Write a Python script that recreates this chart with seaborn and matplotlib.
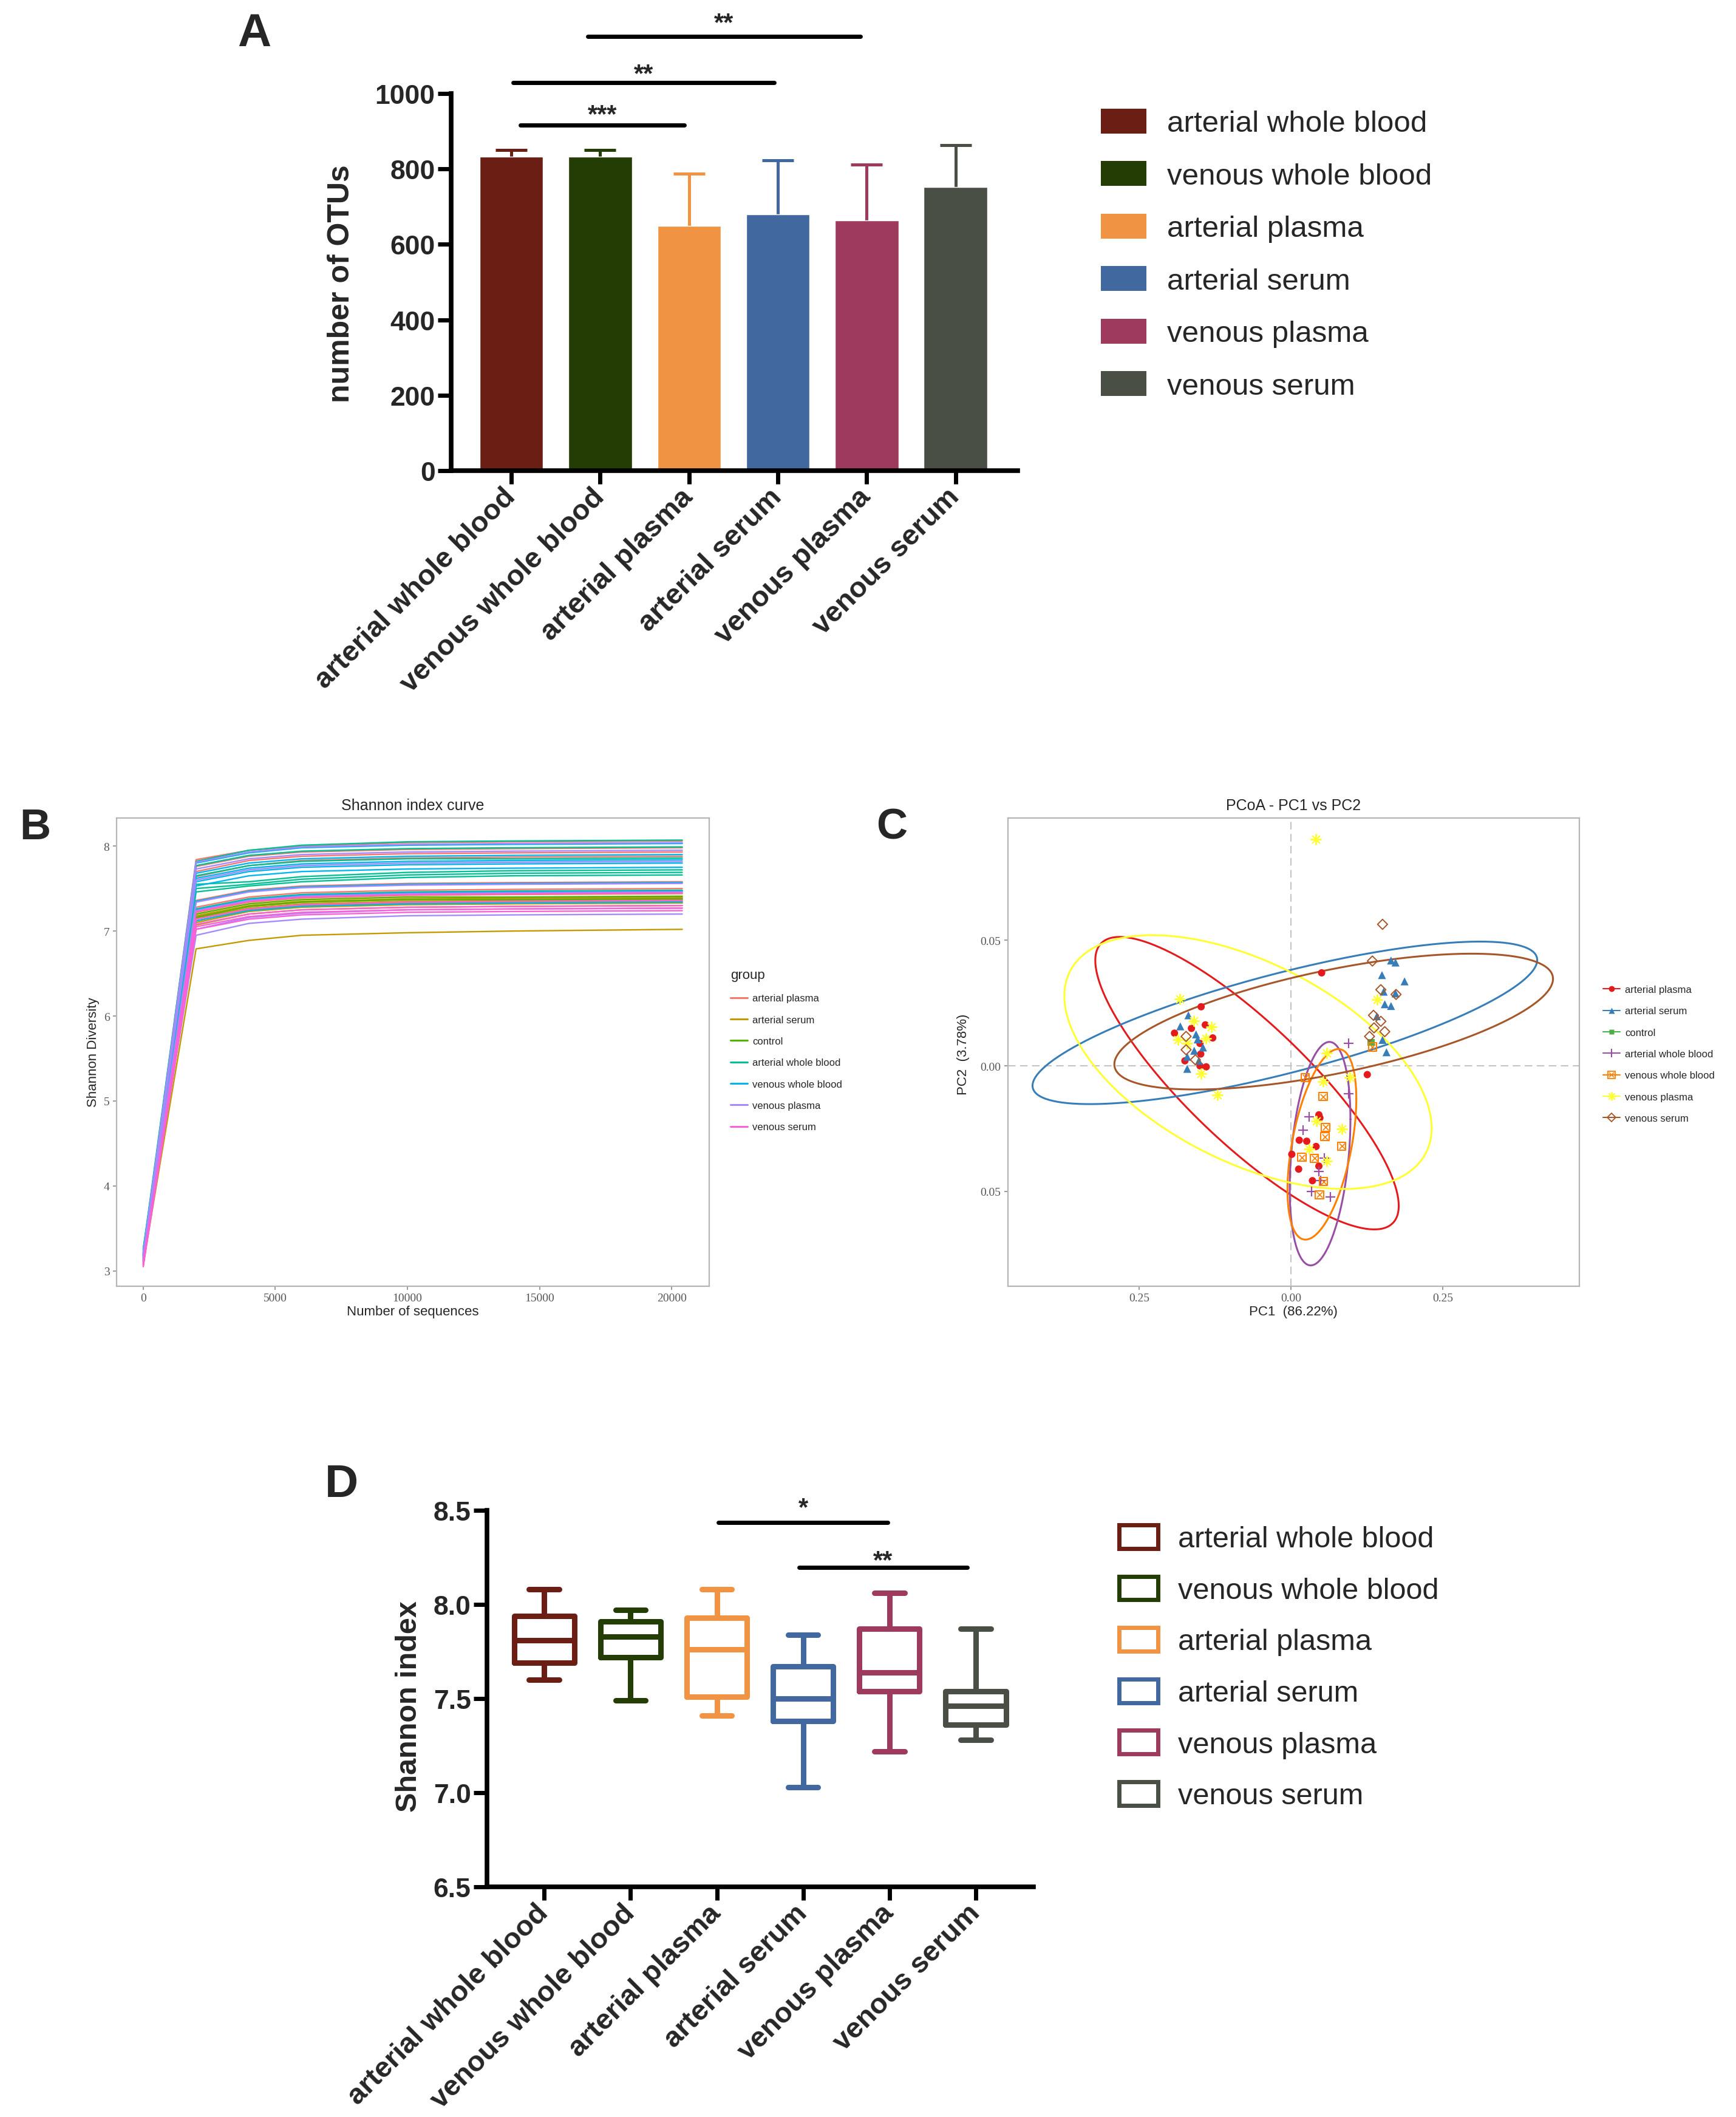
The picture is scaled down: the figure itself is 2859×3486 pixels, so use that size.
import numpy as np
import pandas as pd
import matplotlib
matplotlib.use("Agg")
import matplotlib.pyplot as plt
import seaborn as sns
from matplotlib.lines import Line2D
from matplotlib.patches import Patch

# ------------------------------------------------------------------ data
groups = ["arterial whole blood", "venous whole blood", "arterial plasma",
          "arterial serum", "venous plasma", "venous serum"]
prism_colors = ["#6B1E14", "#233D04", "#F09342", "#4268A0", "#9D3A5E", "#4A4F45"]

# Panel A: number of OTUs (mean, upper SD)
otu_mean = [833, 833, 649, 680, 663, 752]
otu_sd = [17, 17, 139, 143, 148, 111]
# significance brackets: (x start, x end, y, label)
sig_A = [(0.10, 1.95, 917, "***"), (0.02, 2.96, 1029, "**"), (0.86, 3.93, 1151, "**")]

# Panel D: Shannon index box stats  [min, q1, median, q3, max]
shannon_awb = [7.60, 7.69, 7.81, 7.94, 8.08]
shannon_vwb = [7.49, 7.72, 7.83, 7.91, 7.97]
shannon_ap = [7.41, 7.51, 7.76, 7.93, 8.08]
shannon_as = [7.03, 7.38, 7.50, 7.67, 7.84]
shannon_vp = [7.22, 7.54, 7.64, 7.87, 8.06]
shannon_vs = [7.28, 7.36, 7.46, 7.54, 7.87]
sig_D = [(2.02, 3.98, 8.437, "*"), (2.95, 4.90, 8.198, "**")]

# Panel B: Shannon rarefaction curves
gg_groups = ["arterial plasma", "arterial serum", "control", "arterial whole blood",
             "venous whole blood", "venous plasma", "venous serum"]
gg_colors = ["#F8766D", "#C49A00", "#53B400", "#00C094", "#00B6EB", "#A58AFF", "#FB61D7"]
seq_depth = [0, 2000, 4000, 6000, 10000, 14000, 20400]
curves_arterial_plasma = [
    [3.20, 7.84, 7.95, 8.00, 8.04, 8.05, 8.06],
    [3.15, 7.76, 7.88, 7.93, 7.96, 7.97, 7.98],
    [3.22, 7.70, 7.83, 7.88, 7.91, 7.92, 7.93],
    [3.18, 7.64, 7.77, 7.83, 7.86, 7.87, 7.88],
    [3.25, 7.36, 7.48, 7.53, 7.56, 7.57, 7.58],
    [3.12, 7.28, 7.40, 7.45, 7.48, 7.49, 7.50],
    [3.16, 7.22, 7.34, 7.39, 7.42, 7.43, 7.44],
    [3.10, 7.17, 7.29, 7.34, 7.37, 7.38, 7.39]]
curves_arterial_serum = [
    [3.14, 7.18, 7.30, 7.35, 7.38, 7.39, 7.40],
    [3.20, 7.15, 7.27, 7.32, 7.35, 7.36, 7.37],
    [3.12, 7.12, 7.25, 7.30, 7.33, 7.34, 7.35],
    [3.17, 7.10, 7.23, 7.28, 7.31, 7.32, 7.33],
    [3.22, 7.07, 7.20, 7.25, 7.28, 7.29, 7.30],
    [3.08, 6.79, 6.89, 6.95, 6.98, 7.00, 7.02]]
curves_control = [
    [3.18, 7.20, 7.32, 7.37, 7.40, 7.40, 7.41],
    [3.15, 7.16, 7.29, 7.34, 7.37, 7.37, 7.38]]
curves_arterial_whole_blood = [
    [3.24, 7.82, 7.95, 8.01, 8.05, 8.06, 8.07],
    [3.19, 7.77, 7.89, 7.94, 7.97, 7.98, 7.99],
    [3.21, 7.65, 7.77, 7.82, 7.85, 7.85, 7.86],
    [3.26, 7.55, 7.58, 7.64, 7.69, 7.71, 7.72],
    [3.13, 7.50, 7.55, 7.61, 7.66, 7.68, 7.69],
    [3.17, 7.46, 7.53, 7.58, 7.63, 7.65, 7.66],
    [3.11, 7.26, 7.38, 7.43, 7.46, 7.47, 7.48]]
curves_venous_whole_blood = [
    [3.20, 7.80, 7.92, 7.98, 8.01, 8.02, 8.03],
    [3.16, 7.68, 7.80, 7.85, 7.88, 7.89, 7.90],
    [3.23, 7.62, 7.74, 7.79, 7.82, 7.83, 7.84],
    [3.14, 7.58, 7.70, 7.75, 7.78, 7.79, 7.80],
    [3.19, 7.53, 7.65, 7.70, 7.73, 7.74, 7.75],
    [3.12, 7.35, 7.47, 7.52, 7.55, 7.56, 7.57],
    [3.18, 7.25, 7.37, 7.42, 7.45, 7.46, 7.47],
    [3.09, 7.12, 7.24, 7.29, 7.32, 7.33, 7.34]]
curves_venous_plasma = [
    [3.17, 7.81, 7.93, 7.99, 8.02, 8.03, 8.04],
    [3.21, 7.73, 7.85, 7.90, 7.93, 7.94, 7.95],
    [3.15, 7.60, 7.72, 7.77, 7.80, 7.81, 7.82],
    [3.10, 7.34, 7.46, 7.51, 7.54, 7.55, 7.56],
    [3.19, 7.24, 7.36, 7.41, 7.44, 7.45, 7.46],
    [3.08, 7.02, 7.16, 7.21, 7.25, 7.26, 7.27],
    [3.13, 6.95, 7.09, 7.14, 7.18, 7.19, 7.20]]
curves_venous_serum = [
    [3.06, 7.23, 7.35, 7.40, 7.43, 7.44, 7.45],
    [3.11, 7.14, 7.26, 7.31, 7.34, 7.35, 7.36],
    [3.07, 7.08, 7.20, 7.25, 7.28, 7.29, 7.30],
    [3.09, 7.05, 7.17, 7.22, 7.25, 7.26, 7.27],
    [3.05, 7.02, 7.14, 7.19, 7.22, 7.23, 7.24]]

# Panel C: PCoA coordinates
pcoa_colors = ["#E41A1C", "#377EB8", "#4DAF4A", "#984EA3", "#FF7F00", "#FFFF33", "#A65628"]
pc1_arterial_plasma = [-0.1482, -0.1413, -0.1642, -0.1921, -0.1291, -0.1501, -0.1489, -0.1749,
                       -0.1501, -0.1398, 0.0504, 0.1256, 0.0458, 0.0475, 0.0135, 0.0258,
                       0.0412, 0.0012, 0.0125, 0.0458, 0.0352]
pc2_arterial_plasma = [0.0235, 0.0163, 0.0149, 0.0130, 0.0111, 0.0089, 0.0047, 0.0020,
                       0.0000, -0.0004, 0.0370, -0.0035, -0.0195, -0.0207, -0.0296, -0.0300,
                       -0.0321, -0.0352, -0.0411, -0.0399, -0.0457]
pc1_arterial_serum = [-0.1692, -0.1825, -0.1566, -0.1539, -0.1451, -0.1596, -0.1711, -0.1520,
                      -0.1711, 0.1647, 0.1721, 0.1498, 0.1870, 0.1526, 0.1721, 0.1544,
                      0.1647, 0.1414, 0.1507, 0.1572]
pc2_arterial_serum = [0.0201, 0.0157, 0.0125, 0.0105, 0.0073, 0.0060, 0.0036, 0.0020,
                      -0.0012, 0.0419, 0.0411, 0.0361, 0.0336, 0.0295, 0.0288, 0.0245,
                      0.0238, 0.0197, 0.0103, 0.0054]
pc1_control = [0.1321]
pc2_control = [0.0093]
pc1_arterial_whole_blood = [0.0949, 0.0952, 0.0295, 0.0202, 0.0552, 0.0462, 0.0485, 0.0335, 0.0652]
pc2_arterial_whole_blood = [0.0090, -0.0110, -0.0203, -0.0255, -0.0368, -0.0420, -0.0457, -0.0501, -0.0521]
pc1_venous_whole_blood = [0.1340, 0.0235, 0.0528, 0.0568, 0.0558, 0.0835, 0.0178, 0.0385, 0.0535, 0.0468]
pc2_venous_whole_blood = [0.0075, -0.0046, -0.0122, -0.0245, -0.0282, -0.0320, -0.0364, -0.0368, -0.0461, -0.0513]
pc1_venous_plasma = [-0.1833, -0.1604, -0.1310, -0.1864, -0.1711, -0.1405, -0.1482, -0.1214,
                     0.1414, 0.0409, 0.0585, 0.0968, 0.0528, 0.0418, 0.0835, 0.0302, 0.0585]
pc2_venous_plasma = [0.0266, 0.0179, 0.0155, 0.0105, 0.0089, 0.0109, -0.0032, -0.0117,
                     0.0264, 0.0901, 0.0051, -0.0046, -0.0062, -0.0219, -0.0250, -0.0330, -0.0380]
pc1_venous_serum = [-0.1730, -0.1730, -0.1577, 0.1507, 0.1340, 0.1479, 0.1730, 0.1358,
                    0.1479, 0.1367, 0.1544, 0.1293]
pc2_venous_serum = [0.0117, 0.0064, 0.0024, 0.0563, 0.0417, 0.0303, 0.0284, 0.0201,
                    0.0177, 0.0151, 0.0136, 0.0117]
# confidence ellipses: centre (cx, cy), semi-diameter u (ux, uy), conjugate vertical semi-diameter h
ell_arterial_plasma = (-0.0726, -0.0069, 0.2500, -0.0488, 0.0317)
ell_arterial_serum = (-0.0102, 0.0171, 0.4158, 0.0250, 0.0205)
ell_arterial_whole_blood = (0.0478, -0.03495, 0.0500, 0.0137, 0.0423)
ell_venous_whole_blood = (0.0508, -0.03124, 0.0567, 0.01812, 0.0333)
ell_venous_plasma = (-0.0710, 0.0015, 0.3026, -0.0263, 0.0431)
ell_venous_serum = (0.0702, 0.0176, 0.3614, 0.0170, 0.0210)

# ------------------------------------------------------------------ figure
W, H = 2859, 3487
sns.set_theme(style="ticks")
plt.rcParams["font.family"] = ["Liberation Sans", "DejaVu Sans"]
plt.rcParams["axes.unicode_minus"] = False

fig = plt.figure(figsize=(W / 100, H / 100), dpi=100)
fig.patch.set_facecolor("white")


def rect(l, t, r, b):
    return [l / W, 1 - b / H, (r - l) / W, (b - t) / H]


def prism_axes(ax):
    for s in ["top", "right"]:
        ax.spines[s].set_visible(False)
    for s in ["left", "bottom"]:
        ax.spines[s].set_linewidth(5.5)
        ax.spines[s].set_color("black")
    ax.tick_params(axis="both", which="major", direction="out", length=16, width=5,
                   color="black", bottom=True, left=True, pad=3)
    ax.set_facecolor("white")


# ---------------- Panel A
axA = fig.add_axes(rect(743, 155, 1676, 776))
dfA = pd.DataFrame({"group": groups, "otus": otu_mean})
sns.barplot(data=dfA, x="group", y="otus", hue="group", palette=prism_colors,
            saturation=1, width=0.714, errorbar=None, legend=False, ax=axA, zorder=2)
for i, (m, e) in enumerate(zip(otu_mean, otu_sd)):
    eb = axA.errorbar(i, m, yerr=[[0], [e]], fmt="none", ecolor=prism_colors[i],
                      elinewidth=3.6, capsize=19, capthick=3.6, zorder=1)
    for cl in eb[1]:
        if np.allclose(cl.get_ydata(), m):
            cl.set_visible(False)
axA.set_ylim(0, 1000)
axA.set_xlim(-0.678, 5.70)
prism_axes(axA)
axA.set_yticks([0, 200, 400, 600, 800, 1000],
               labels=["0", "200", "400", "600", "800", "1000"],
               fontsize=32, fontweight="bold")
axA.set_xticks(range(6))
axA.set_xticklabels(groups, rotation=45, ha="right", va="center",
                    rotation_mode="anchor", fontsize=34, fontweight="bold")
axA.tick_params(axis="x", pad=10)
axA.set_xlabel("")
axA.set_ylabel("number of OTUs", fontsize=36, fontweight="bold")
axA.yaxis.set_label_coords(-0.169, 0.4975)
star_off_A = [4, 2, 8]
for (x0, x1, y, lab), off in zip(sig_A, star_off_A):
    axA.plot([x0, x1], [y, y], color="black", lw=5, solid_capstyle="round", clip_on=False)
    axA.annotate(lab, xy=((x0 + x1) / 2, y), xytext=(0, off), textcoords="offset points",
                 ha="center", va="baseline", fontsize=30, fontweight="bold", annotation_clip=False)
fig.legend([Patch(facecolor=c, edgecolor="none") for c in prism_colors], groups,
           loc="upper left", bbox_to_anchor=(1813 / W, 1 - 180 / H),
           bbox_transform=fig.transFigure, frameon=False, fontsize=35.5,
           handlelength=1.52, handleheight=0.9, handletextpad=0.69,
           labelspacing=0.79, borderpad=0, borderaxespad=0)

# ---------------- Panel D
axD = fig.add_axes(rect(802, 2488, 1702, 3108))
stats_D = [shannon_awb, shannon_vwb, shannon_ap, shannon_as, shannon_vp, shannon_vs]
dfD = pd.DataFrame([(g, v) for g, st in zip(groups, stats_D) for v in st],
                   columns=["group", "shannon"])
sns.boxplot(data=dfD, x="group", y="shannon", hue="group", palette=prism_colors,
            fill=False, width=0.70, whis=(0, 100), linewidth=6.5, legend=False, ax=axD)
axD.set_ylim(6.5, 8.5)
axD.set_xlim(-0.664, 5.67)
prism_axes(axD)
axD.set_yticks([6.5, 7.0, 7.5, 8.0, 8.5], labels=["6.5", "7.0", "7.5", "8.0", "8.5"],
               fontsize=32, fontweight="bold")
axD.set_xticks(range(6))
axD.set_xticklabels(groups, rotation=45, ha="right", va="center",
                    rotation_mode="anchor", fontsize=34, fontweight="bold")
axD.tick_params(axis="x", pad=10)
axD.set_xlabel("")
axD.set_ylabel("Shannon index", fontsize=35, fontweight="bold")
axD.yaxis.set_label_coords(-0.1175, 0.481)
star_off_D = [9, 0]
for (x0, x1, y, lab), off in zip(sig_D, star_off_D):
    axD.plot([x0, x1], [y, y], color="black", lw=5, solid_capstyle="round", clip_on=False)
    axD.annotate(lab, xy=((x0 + x1) / 2, y), xytext=(0, off), textcoords="offset points",
                 ha="center", va="baseline", fontsize=30, fontweight="bold", annotation_clip=False)
fig.legend([Patch(facecolor="none", edgecolor=c, linewidth=5) for c in prism_colors], groups,
           loc="upper left", bbox_to_anchor=(1843 / W, 1 - 2512 / H),
           bbox_transform=fig.transFigure, frameon=False, fontsize=35,
           handlelength=1.32, handleheight=0.85, handletextpad=0.68,
           labelspacing=0.79, borderpad=0, borderaxespad=0)


def gg_axes(ax):
    for s in ax.spines.values():
        s.set_visible(True)
        s.set_color("#b5b5b5")
        s.set_linewidth(1.6)
    ax.tick_params(axis="both", direction="out", length=4, width=1.2, color="#8a8a8a",
                   labelcolor="#555555", labelsize=14, pad=4, bottom=True, left=True)
    for t in ax.get_xticklabels() + ax.get_yticklabels():
        t.set_family(["Liberation Serif", "DejaVu Serif"])
    ax.set_facecolor("white")


# ---------------- Panel B
axB = fig.add_axes(rect(191.5, 1348, 1168, 2119))
curve_sets = [curves_arterial_plasma, curves_arterial_serum, curves_control,
              curves_arterial_whole_blood, curves_venous_whole_blood,
              curves_venous_plasma, curves_venous_serum]
rowsB = []
for g, cs in zip(gg_groups, curve_sets):
    for k, c in enumerate(cs):
        for d, v in zip(seq_depth, c):
            rowsB.append((g, f"{g}_{k}", d, v))
dfB = pd.DataFrame(rowsB, columns=["group", "sample", "depth", "shannon"])
sns.lineplot(data=dfB, x="depth", y="shannon", hue="group", units="sample", estimator=None,
             hue_order=gg_groups, palette=gg_colors, linewidth=1.7, legend=False, ax=axB)
axB.set_xlim(-1020, 21420)
axB.set_ylim(2.82, 8.33)
axB.set_xticks([0, 5000, 10000, 15000, 20000])
axB.set_yticks([3, 4, 5, 6, 7, 8])
gg_axes(axB)
axB.set_title("Shannon index curve", fontsize=18, pad=10)
axB.set_xlabel("Number of sequences", fontsize=16)
axB.set_ylabel("Shannon Diversity", fontsize=16)
axB.xaxis.set_label_coords(0.5, -0.040)
axB.yaxis.set_label_coords(-0.028, 0.501)
axB.legend([Line2D([0], [0], color=c, lw=2.2) for c in gg_colors], gg_groups, title="group",
           loc="upper left", bbox_to_anchor=(1203 / W, 1 - 1596 / H),
           bbox_transform=fig.transFigure, frameon=False, fontsize=12, title_fontsize=16,
           handlelength=1.7, handletextpad=0.45, labelspacing=1.22, alignment="left",
           borderpad=0, borderaxespad=0)

# ---------------- Panel C
axC = fig.add_axes(rect(1659.5, 1348, 2601, 2119))
axC.axvline(0, color="#c4c4c4", lw=1.5, ls=(0, (6, 3.5)), zorder=0)
axC.axhline(0, color="#c4c4c4", lw=1.5, ls=(0, (6, 3.5)), zorder=0)
t = np.linspace(0, 2 * np.pi, 300)
ellipses = [(ell_arterial_plasma, pcoa_colors[0]), (ell_arterial_serum, pcoa_colors[1]),
            (ell_arterial_whole_blood, pcoa_colors[3]), (ell_venous_whole_blood, pcoa_colors[4]),
            (ell_venous_plasma, pcoa_colors[5]), (ell_venous_serum, pcoa_colors[6])]
for (cx, cy, ux, uy, h), col in ellipses:
    axC.plot(cx + ux * np.cos(t), cy + uy * np.cos(t) + h * np.sin(t), color=col, lw=2.2, zorder=2)

pts = [(pc1_arterial_plasma, pc2_arterial_plasma, dict(marker="o", s=75, edgecolor="none")),
       (pc1_arterial_serum, pc2_arterial_serum, dict(marker="^", s=90, edgecolor="none")),
       (pc1_control, pc2_control, dict(marker="s", s=70, edgecolor="none")),
       (pc1_arterial_whole_blood, pc2_arterial_whole_blood, dict(marker="+", s=140, linewidth=1.6)),
       (pc1_venous_whole_blood, pc2_venous_whole_blood, dict(marker="s", s=90, facecolor="none", linewidth=1.5)),
       (pc1_venous_plasma, pc2_venous_plasma, dict(marker=(8, 2, 0), s=140, linewidth=1.4)),
       (pc1_venous_serum, pc2_venous_serum, dict(marker="D", s=70, facecolor="none", linewidth=1.4))]
for (xs, ys, kw), col in zip(pts, pcoa_colors):
    sns.scatterplot(x=xs, y=ys, color=col, ax=axC, zorder=3, legend=False,
                    **({"edgecolor": col} if kw.get("facecolor") == "none" else {}), **kw)
sns.scatterplot(x=pc1_venous_whole_blood, y=pc2_venous_whole_blood, color=pcoa_colors[4],
                marker="x", s=45, linewidth=1.2, ax=axC, zorder=3, legend=False)
axC.set_xlim(-0.467, 0.475)
axC.set_ylim(-0.0877, 0.0986)
axC.set_xticks([-0.25, 0.0, 0.25], labels=["0.25", "0.00", "0.25"])
axC.set_yticks([-0.05, 0.0, 0.05], labels=["0.05", "0.00", "0.05"])
gg_axes(axC)
axC.set_title("PCoA - PC1 vs PC2", fontsize=18, pad=10)
axC.set_xlabel("PC1  (86.22%)", fontsize=16)
axC.set_ylabel("PC2  (3.78%)", fontsize=16)
axC.xaxis.set_label_coords(0.5, -0.040)
axC.yaxis.set_label_coords(-0.066, 0.497)
handlesC = [
    Line2D([0], [0], color=pcoa_colors[0], lw=1.5, marker="o", markersize=7, markeredgecolor="none"),
    Line2D([0], [0], color=pcoa_colors[1], lw=1.5, marker="^", markersize=7, markeredgecolor="none"),
    Line2D([0], [0], color=pcoa_colors[2], lw=1.5, marker="s", markersize=6, markeredgecolor="none"),
    Line2D([0], [0], color=pcoa_colors[3], lw=1.5, marker="+", markersize=10, markeredgewidth=1.5),
    (Line2D([0], [0], color=pcoa_colors[4], lw=1.5, marker="s", markersize=8,
            markerfacecolor="none", markeredgewidth=1.3),
     Line2D([0], [0], color=pcoa_colors[4], lw=0, marker="x", markersize=6, markeredgewidth=1.1)),
    Line2D([0], [0], color=pcoa_colors[5], lw=1.5, marker=(8, 2, 0), markersize=10, markeredgewidth=1.3),
    Line2D([0], [0], color=pcoa_colors[6], lw=1.5, marker="D", markersize=7,
           markerfacecolor="none", markeredgewidth=1.3)]
axC.legend(handlesC, gg_groups, loc="upper left", bbox_to_anchor=(2640 / W, 1 - 1623 / H),
           bbox_transform=fig.transFigure, frameon=False, fontsize=12,
           handlelength=1.7, handletextpad=0.45, labelspacing=1.22, borderpad=0, borderaxespad=0)

# ---------------- panel letters
fig.text(391 / W, 1 - 21 / H, "A", fontsize=55, fontweight="bold", ha="left", va="top")
fig.text(32 / W, 1 - 1331 / H, "B", fontsize=51, fontweight="bold", ha="left", va="top")
fig.text(1443 / W, 1 - 1331 / H, "C", fontsize=51, fontweight="bold", ha="left", va="top")
fig.text(535 / W, 1 - 2410 / H, "D", fontsize=55, fontweight="bold", ha="left", va="top")

fig.savefig("out.png", dpi=100, facecolor="white")
